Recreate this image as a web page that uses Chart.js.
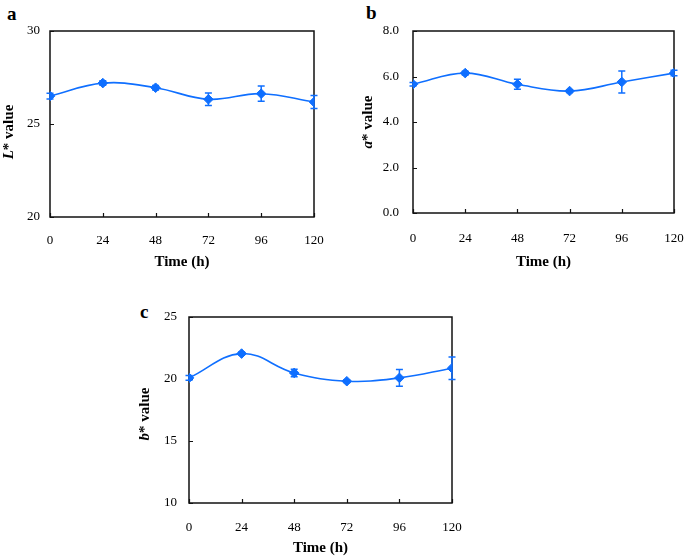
<!DOCTYPE html>
<html>
<head>
<meta charset="utf-8">
<script src="https://cdn.jsdelivr.net/npm/chart.js@4.4.0/dist/chart.umd.min.js"></script>
<style>
  body { margin: 0; background: #fff; width: 685px; height: 558px; position: relative; overflow: hidden; }
  canvas { position: absolute; }
  .panel { position: absolute; font: bold 19px "Liberation Serif", serif; line-height: 19px; color: #000; }
</style>
</head>
<body>
<div class="panel" style="left:7px;top:4px">a</div>
<div class="panel" style="left:366px;top:3px">b</div>
<div class="panel" style="left:140px;top:302px">c</div>
<canvas id="chart-l" width="340" height="280" style="left:0;top:0"></canvas>
<canvas id="chart-a" width="345" height="280" style="left:340px;top:0"></canvas>
<canvas id="chart-b" width="340" height="268" style="left:130px;top:290px"></canvas>
<script>
const times = [0, 24, 48, 72, 96, 120];
const lValues = [26.5, 27.2, 26.95, 26.33, 26.63, 26.18];
const lErrors = [0.15, 0.12, 0.12, 0.34, 0.41, 0.35];
const aValues = [5.66, 6.15, 5.66, 5.36, 5.76, 6.15];
const aErrors = [0.08, 0.08, 0.22, 0.06, 0.48, 0.12];
const bValues = [20.09, 22.05, 20.49, 19.82, 20.09, 20.87];
const bErrors = [0.2, 0.12, 0.3, 0.1, 0.67, 0.91];

const BLUE = '#0f6fff';
const SERIF = '"Liberation Serif", "Times New Roman", serif';

const framePlugin = {
    id: 'frame',
    beforeDatasetsDraw(chart) {
        const ctx = chart.ctx;
        const { left, right, top, bottom } = chart.chartArea;
        const xs = chart.scales.x, ys = chart.scales.y;
        ctx.save();
        ctx.strokeStyle = '#111';
        ctx.lineWidth = 1.5;
        ctx.strokeRect(left, top, right - left, bottom - top);
        ctx.beginPath();
        ys.ticks.forEach(t => {
            const y = Math.round(ys.getPixelForValue(t.value)) + 0.5;
            ctx.moveTo(left, y);
            ctx.lineTo(left + 4, y);
        });
        xs.ticks.forEach(t => {
            const x = Math.round(xs.getPixelForValue(t.value)) + 0.5;
            ctx.moveTo(x, bottom);
            ctx.lineTo(x, bottom - 4);
        });
        ctx.lineWidth = 1.2;
        ctx.stroke();
        ctx.restore();
    },
    afterDatasetsDraw(chart, args, opts) {
        const ctx = chart.ctx;
        const xs = chart.scales.x, ys = chart.scales.y;
        const data = chart.data.datasets[0].data;
        ctx.save();
        ctx.strokeStyle = BLUE;
        ctx.lineWidth = 1.5;
        ctx.beginPath();
        data.forEach((p, i) => {
            const err = opts.errors[i];
            const x = xs.getPixelForValue(p.x);
            const yHi = ys.getPixelForValue(p.y + err);
            const yLo = ys.getPixelForValue(p.y - err);
            ctx.moveTo(x, yHi); ctx.lineTo(x, yLo);
            ctx.moveTo(x - 3.5, yHi); ctx.lineTo(x + 3.5, yHi);
            ctx.moveTo(x - 3.5, yLo); ctx.lineTo(x + 3.5, yLo);
        });
        ctx.stroke();

        // y-axis title with an italic letter
        const { top, bottom } = chart.chartArea;
        const cx = ys.left + 9;
        const cy = (top + bottom) / 2 + opts.titleShift;
        const fontItalic = 'italic bold 15px ' + SERIF;
        const fontBold = 'bold 15px ' + SERIF;
        ctx.font = fontItalic;
        const w1 = ctx.measureText(opts.letter).width;
        ctx.font = fontBold;
        const w2 = ctx.measureText('* value').width;
        ctx.translate(cx, cy);
        ctx.rotate(-Math.PI / 2);
        ctx.fillStyle = '#000';
        ctx.textBaseline = 'middle';
        ctx.textAlign = 'left';
        const start = -(w1 + w2) / 2;
        ctx.font = fontItalic;
        ctx.fillText(opts.letter, start, 0);
        ctx.font = fontBold;
        ctx.fillText('* value', start + w1, 0);
        ctx.restore();
    }
};

function createChart(id, values, errors, s) {
    const config = {
        type: 'line',
        data: {
            datasets: [{
                data: times.map((t, i) => ({ x: t, y: values[i] })),
                borderColor: BLUE,
                backgroundColor: BLUE,
                borderWidth: 1.6,
                tension: 0.4,
                pointStyle: 'rectRot',
                pointRadius: 4.8,
                pointBorderWidth: 1,
                pointBorderColor: BLUE,
                pointBackgroundColor: BLUE
            }]
        },
        options: {
            responsive: false,
            animation: false,
            events: [],
            layout: { padding: s.padding },
            plugins: {
                legend: { display: false },
                tooltip: { enabled: false },
                frame: { errors, letter: s.letter, titleShift: s.titleShift }
            },
            scales: {
                x: {
                    type: 'linear',
                    min: 0,
                    max: 120,
                    afterFit(scale) {
                        scale.height = s.xHeight;
                        // tick padding is only meant to push labels down
                        scale.paddingLeft = 10;
                        scale.paddingRight = 10;
                    },
                    afterBuildTicks(scale) { scale.ticks = times.map(v => ({ value: v })); },
                    grid: { display: false, drawTicks: false },
                    border: { display: false },
                    ticks: { padding: s.xPad, color: '#000', font: { family: SERIF, size: 13 }, maxRotation: 0 },
                    title: {
                        display: true,
                        text: 'Time (h)',
                        color: '#000',
                        font: { family: SERIF, size: 15, weight: 'bold' },
                        padding: { top: 0, bottom: s.titlePad }
                    }
                },
                y: {
                    min: s.min,
                    max: s.max,
                    afterFit(scale) { scale.width = s.yWidth; },
                    grid: { display: false, drawTicks: false },
                    border: { display: false },
                    ticks: {
                        stepSize: s.step,
                        padding: s.yPad,
                        color: '#000',
                        font: { family: SERIF, size: 13 },
                        callback: v => v.toFixed(s.decimals)
                    }
                }
            }
        },
        plugins: [framePlugin]
    };
    return new Chart(document.getElementById(id), config);
}

createChart('chart-l', lValues, lErrors, {
    letter: 'L', min: 20, max: 30, step: 5, decimals: 0, titleShift: 8,
    padding: { left: 0, top: 31, right: 26, bottom: 0 },
    yWidth: 50, xHeight: 63, xPad: 16, yPad: 10, titlePad: 9
});
createChart('chart-a', aValues, aErrors, {
    letter: 'a', min: 0, max: 8, step: 2, decimals: 1, titleShift: 0,
    padding: { left: 19, top: 31, right: 11, bottom: 0 },
    yWidth: 54, xHeight: 67, xPad: 18, yPad: 14, titlePad: 9
});
createChart('chart-b', bValues, bErrors, {
    letter: 'b', min: 10, max: 25, step: 5, decimals: 0, titleShift: 4,
    padding: { left: 6, top: 27, right: 18, bottom: 0 },
    yWidth: 53, xHeight: 55, xPad: 17, yPad: 12, titlePad: 1
});
</script>
</body>
</html>
